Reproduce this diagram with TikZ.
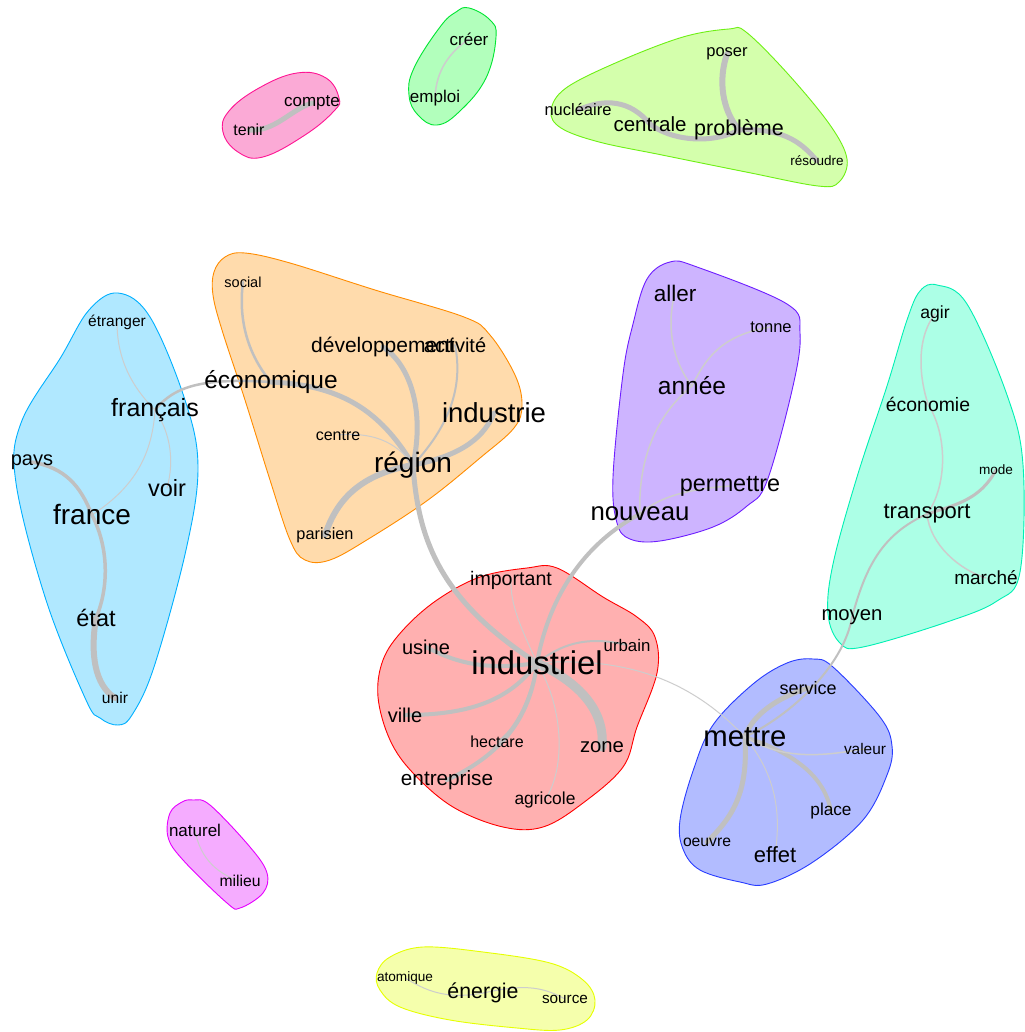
\documentclass[tikz,border=0pt]{standalone}
\usepackage{fontspec}
\setmainfont{Liberation Sans}
\newcommand\wfs[1]{\fontsize{#1}{#1}\selectfont}
\definecolor{edgec}{RGB}{192,192,192}
\definecolor{edgel}{RGB}{205,205,205}
\definecolor{pinkF}{RGB}{251,170,214}\definecolor{pinkD}{RGB}{255,20,147}
\definecolor{grnF}{RGB}{178,255,188}\definecolor{grnD}{RGB}{0,230,50}
\definecolor{lgrF}{RGB}{212,255,172}\definecolor{lgrD}{RGB}{110,240,20}
\definecolor{orF}{RGB}{255,219,172}\definecolor{orD}{RGB}{255,140,0}
\definecolor{blF}{RGB}{176,232,255}\definecolor{blD}{RGB}{0,176,255}
\definecolor{puF}{RGB}{205,180,255}\definecolor{puD}{RGB}{110,30,255}
\definecolor{teF}{RGB}{172,255,230}\definecolor{teD}{RGB}{0,240,180}
\definecolor{reF}{RGB}{255,176,176}\definecolor{reD}{RGB}{255,0,0}
\definecolor{bmF}{RGB}{178,188,255}\definecolor{bmD}{RGB}{40,60,255}
\definecolor{maF}{RGB}{245,172,255}\definecolor{maD}{RGB}{230,0,255}
\definecolor{yeF}{RGB}{245,255,172}\definecolor{yeD}{RGB}{230,255,0}
\pgfdeclarelayer{paper}\pgfdeclarelayer{hull}\pgfdeclarelayer{edges}
\pgfsetlayers{paper,hull,edges,main}
\tikzset{
  lbl/.style={inner sep=0pt,text=black},
  hullpath/.style={line width=0.9pt},
  ed/.style={draw=edgec,line cap=round},
  edl/.style={draw=edgel,line cap=round}
}
\begin{document}
\begin{tikzpicture}[x=1pt,y=-1pt]
\begin{pgfonlayer}{paper}
\fill[white] (0,0) rectangle (1024,1032);
\end{pgfonlayer}
\useasboundingbox (0,0) rectangle (1024,1032);
% ---- labels
\node[lbl,font=\wfs{17}] (compte) at (312,103) {compte};
\node[lbl,font=\wfs{16}] (tenir) at (249,130) {tenir};
\node[lbl,font=\wfs{17}] (creer) at (469,39) {créer};
\node[lbl,font=\wfs{17}] (emploi) at (435,98) {emploi};
\node[lbl,font=\wfs{16.5}] (poser) at (727,54) {poser};
\node[lbl,font=\wfs{16.5}] (nucleaire) at (578,110) {nucléaire};
\node[lbl,font=\wfs{20.5}] (centrale) at (650,124) {centrale};
\node[lbl,font=\wfs{21.5}] (probleme) at (739,130) {problème};
\node[lbl,font=\wfs{13.5}] (resoudre) at (817,161) {résoudre};
\node[lbl,font=\wfs{14.5}] (social) at (243,282) {social};
\node[lbl,font=\wfs{15.5}] (etranger) at (117,322) {étranger};
\node[lbl,font=\wfs{21}] (developpement) at (383,347) {développement};
\node[lbl,font=\wfs{20}] (activite) at (455,345) {activité};
\node[lbl,font=\wfs{24.5}] (economique) at (271,382) {économique};
\node[lbl,font=\wfs{25}] (francais) at (155,410) {français};
\node[lbl,font=\wfs{27.5}] (industrie) at (494,413) {industrie};
\node[lbl,font=\wfs{16}] (centre) at (338,435) {centre};
\node[lbl,font=\wfs{28}] (region) at (413,465) {région};
\node[lbl,font=\wfs{20}] (pays) at (32,462) {pays};
\node[lbl,font=\wfs{23.5}] (voir) at (167,488) {voir};
\node[lbl,font=\wfs{28}] (france) at (92,515) {france};
\node[lbl,font=\wfs{16.3}] (parisien) at (325,535) {parisien};
\node[lbl,font=\wfs{23.5}] (etat) at (96,618) {état};
\node[lbl,font=\wfs{15.6}] (unir) at (115,698) {unir};
\node[lbl,font=\wfs{22.5}] (aller) at (675,293) {aller};
\node[lbl,font=\wfs{16.5}] (tonne) at (771,327) {tonne};
\node[lbl,font=\wfs{24.5}] (annee) at (692,386) {année};
\node[lbl,font=\wfs{23.4}] (permettre) at (730,486) {permettre};
\node[lbl,font=\wfs{25.8}] (nouveau) at (640,514) {nouveau};
\node[lbl,font=\wfs{17.6}] (agir) at (935,314) {agir};
\node[lbl,font=\wfs{19.4}] (economie) at (928,404) {économie};
\node[lbl,font=\wfs{13.6}] (mode) at (996,470) {mode};
\node[lbl,font=\wfs{22}] (transport) at (927,514) {transport};
\node[lbl,font=\wfs{19}] (marche) at (986,578) {marché};
\node[lbl,font=\wfs{20.3}] (moyen) at (852,617) {moyen};
\node[lbl,font=\wfs{19.6}] (important) at (511,580) {important};
\node[lbl,font=\wfs{20}] (usine) at (426,647) {usine};
\node[lbl,font=\wfs{32.8}] (industriel) at (537,663) {industriel};
\node[lbl,font=\wfs{16.8}] (urbain) at (627,645) {urbain};
\node[lbl,font=\wfs{20}] (ville) at (405,715) {ville};
\node[lbl,font=\wfs{16}] (hectare) at (497,742) {hectare};
\node[lbl,font=\wfs{20.3}] (zone) at (602,747) {zone};
\node[lbl,font=\wfs{20.7}] (entreprise) at (447,780) {entreprise};
\node[lbl,font=\wfs{17.4}] (agricole) at (545,800) {agricole};
\node[lbl,font=\wfs{18}] (service) at (808,688) {service};
\node[lbl,font=\wfs{29.3}] (mettre) at (745,737) {mettre};
\node[lbl,font=\wfs{15.4}] (valeur) at (865,749) {valeur};
\node[lbl,font=\wfs{17.2}] (place) at (831,811) {place};
\node[lbl,font=\wfs{15.7}] (oeuvre) at (707,842) {oeuvre};
\node[lbl,font=\wfs{22}] (effet) at (775,855) {effet};
\node[lbl,font=\wfs{17}] (naturel) at (195,830) {naturel};
\node[lbl,font=\wfs{15.7}] (milieu) at (240,881) {milieu};
\node[lbl,font=\wfs{13.6}] (atomique) at (405,978) {atomique};
\node[lbl,font=\wfs{21.3}] (energie) at (483,993) {énergie};
\node[lbl,font=\wfs{15.3}] (source) at (565,999) {source};
% ---- hulls
\begin{pgfonlayer}{hull}
\draw[hullpath,fill=pinkF,draw=pinkD] plot[smooth cycle,tension=0.7] coordinates {(297,73) (326,78) (339,98) (334,111) (305,135) (263,157) (238,152) (223,132) (229,111) (259,88)};
\draw[hullpath,fill=grnF,draw=grnD] plot[smooth cycle,tension=0.7] coordinates {(469,8) (490,20) (496,37) (486,78) (460,111) (437,125) (418,115) (409,95) (414,68) (440,27) (456,12)};
\draw[hullpath,fill=lgrF,draw=lgrD] plot[smooth cycle,tension=0.6] coordinates {(551,111) (566,88) (620,61) (683,37) (729,29) (746,32) (788,74) (830,125) (847,159) (839,182) (818,186) (746,172) (662,155) (599,142) (561,128)};
\draw[hullpath,fill=orF,draw=orD] plot[smooth cycle,tension=0.6] coordinates {(214,272) (225,257) (245,253) (290,263) (375,290) (464,317) (490,335) (515,375) (522,405) (514,428) (480,458) (428,500) (370,538) (330,560) (305,560) (290,540) (270,480) (245,400) (222,330) (213,295)};
\draw[hullpath,fill=blF,draw=blD] plot[smooth cycle,tension=0.6] coordinates {(118,293) (150,317) (185,400) (198,467) (186,550) (154,667) (132,715) (118,725) (100,718) (86,700) (46,600) (16,483) (21,423) (61,357) (89,310)};
\draw[hullpath,fill=puF,draw=puD] plot[smooth cycle,tension=0.6] coordinates {(670,262) (697,267) (787,304) (800,333) (793,386) (767,481) (747,506) (713,527) (660,541) (630,539) (617,523) (613,477) (623,374) (633,324) (647,279)};
\draw[hullpath,fill=teF,draw=teD] plot[smooth cycle,tension=0.6] coordinates {(937,285) (967,304) (1007,395) (1023,465) (1020,572) (997,601) (947,622) (863,647) (840,643) (828,614) (833,564) (857,477) (887,386) (907,320) (920,291)};
\draw[hullpath,fill=reF,draw=reD] plot[smooth cycle,tension=0.6] coordinates {(527,568) (557,568) (603,597) (637,617) (655,637) (657,673) (637,727) (623,767) (583,803) (543,827) (503,827) (453,807) (413,773) (390,740) (378,697) (383,660) (403,630) (437,600) (480,577)};
\draw[hullpath,fill=bmF,draw=bmD] plot[smooth cycle,tension=0.6] coordinates {(813,659) (833,667) (880,717) (892,746) (887,775) (863,820) (813,862) (767,884) (740,882) (700,870) (683,849) (680,820) (693,771) (713,725) (753,684) (787,663)};
\draw[hullpath,fill=maF,draw=maD] plot[smooth cycle,tension=0.6] coordinates {(193,800) (210,805) (250,847) (267,873) (263,893) (240,908) (227,903) (183,860) (168,837) (170,813) (182,802)};
\draw[hullpath,fill=yeF,draw=yeD] plot[smooth cycle,tension=0.6] coordinates {(377,973) (390,957) (423,947) (483,952) (550,963) (583,980) (595,1000) (587,1020) (560,1030) (517,1028) (450,1020) (400,1007) (380,990)};
\end{pgfonlayer}
% ---- edges
\begin{pgfonlayer}{edges}
\draw[ed,line width=5pt] (tenir.center) .. controls (275,132) and (290,110) .. (compte.center);
\draw[edl,line width=1.5pt] (emploi.center) .. controls (436,70) and (450,52) .. (creer.center);
\draw[ed,line width=5pt] (nucleaire.center) .. controls (605,98) and (630,100) .. (centrale.center);
\draw[ed,line width=5pt] (centrale.center) .. controls (670,140) and (710,145) .. (probleme.center);
\draw[ed,line width=6pt] (poser.center) .. controls (718,80) and (722,110) .. (probleme.center);
\draw[ed,line width=5pt] (probleme.center) .. controls (780,128) and (800,140) .. (resoudre.center);
\draw[ed,line width=2.5pt] (social.center) .. controls (238,320) and (248,355) .. (economique.center);
\draw[ed,line width=5pt] (economique.center) .. controls (340,385) and (380,410) .. (region.center);
\draw[ed,line width=5pt] (developpement.center) .. controls (410,365) and (425,410) .. (region.center);
\draw[ed,line width=2pt] (activite.center) .. controls (462,380) and (455,420) .. (region.center);
\draw[ed,line width=5pt] (industrie.center) .. controls (485,435) and (465,455) .. (region.center);
\draw[edl,line width=1pt] (centre.center) .. controls (370,432) and (395,440) .. (region.center);
\draw[ed,line width=6pt] (parisien.center) .. controls (335,505) and (355,475) .. (region.center);
\draw[ed,line width=5pt] (region.center) .. controls (418,540) and (440,600) .. (industriel.center);
\draw[ed,line width=2.5pt] (economique.center) .. controls (205,378) and (175,385) .. (francais.center);
\draw[edl,line width=1pt] (etranger.center) .. controls (117,350) and (125,380) .. (francais.center);
\draw[edl,line width=1pt] (francais.center) .. controls (152,460) and (130,490) .. (france.center);
\draw[edl,line width=1pt] (francais.center) .. controls (175,440) and (172,470) .. (voir.center);
\draw[ed,line width=3.5pt] (pays.center) .. controls (65,468) and (80,485) .. (france.center);
\draw[ed,line width=3.5pt] (france.center) .. controls (110,550) and (108,590) .. (etat.center);
\draw[ed,line width=6pt] (etat.center) .. controls (90,655) and (95,685) .. (unir.center);
\draw[edl,line width=1.5pt] (aller.center) .. controls (665,330) and (675,365) .. (annee.center);
\draw[edl,line width=1.5pt] (tonne.center) .. controls (720,335) and (705,360) .. (annee.center);
\draw[edl,line width=1.5pt] (annee.center) .. controls (650,420) and (638,470) .. (nouveau.center);
\draw[edl,line width=1.5pt] (permettre.center) .. controls (670,490) and (650,505) .. (nouveau.center);
\draw[ed,line width=4pt] (nouveau.center) .. controls (590,540) and (550,590) .. (industriel.center);
\draw[edl,line width=1.5pt] (agir.center) .. controls (915,340) and (920,380) .. (economie.center);
\draw[edl,line width=1.5pt] (economie.center) .. controls (950,440) and (945,490) .. (transport.center);
\draw[edl,line width=1.5pt] (transport.center) .. controls (930,545) and (960,570) .. (marche.center);
\draw[ed,line width=3pt] (mode.center) .. controls (980,500) and (955,505) .. (transport.center);
\draw[ed,line width=2pt] (transport.center) .. controls (880,535) and (865,570) .. (moyen.center);
\draw[ed,line width=2pt] (moyen.center) .. controls (845,660) and (800,710) .. (mettre.center);
\draw[ed,line width=5pt] (service.center) .. controls (770,700) and (750,720) .. (mettre.center);
\draw[ed,line width=5pt] (mettre.center) .. controls (748,790) and (735,815) .. (oeuvre.center);
\draw[ed,line width=4pt] (mettre.center) .. controls (800,755) and (825,780) .. (place.center);
\draw[edl,line width=1.5pt] (mettre.center) .. controls (790,765) and (840,752) .. (valeur.center);
\draw[edl,line width=1pt] (mettre.center) .. controls (780,780) and (780,820) .. (effet.center);
\draw[edl,line width=1pt] (industriel.center) .. controls (640,655) and (700,690) .. (mettre.center);
\draw[edl,line width=1pt] (industriel.center) .. controls (522,630) and (510,605) .. (important.center);
\draw[ed,line width=2pt] (industriel.center) .. controls (560,645) and (585,635) .. (urbain.center);
\draw[ed,line width=4pt] (industriel.center) .. controls (490,670) and (460,665) .. (usine.center);
\draw[ed,line width=4pt] (industriel.center) .. controls (510,700) and (470,715) .. (ville.center);
\draw[ed,line width=4pt] (industriel.center) .. controls (530,720) and (500,755) .. (entreprise.center);
\draw[ed,line width=1.5pt] (industriel.center) .. controls (530,700) and (515,730) .. (hectare.center);
\draw[ed,line width=9pt] (industriel.center) .. controls (585,685) and (605,715) .. (zone.center);
\draw[edl,line width=1pt] (industriel.center) .. controls (565,710) and (565,770) .. (agricole.center);
\draw[edl,line width=1pt] (naturel.center) .. controls (200,860) and (220,875) .. (milieu.center);
\draw[edl,line width=1pt] (atomique.center) .. controls (425,990) and (445,1000) .. (energie.center);
\draw[edl,line width=1pt] (energie.center) .. controls (520,985) and (540,985) .. (source.center);
\end{pgfonlayer}
\end{tikzpicture}
\end{document}
